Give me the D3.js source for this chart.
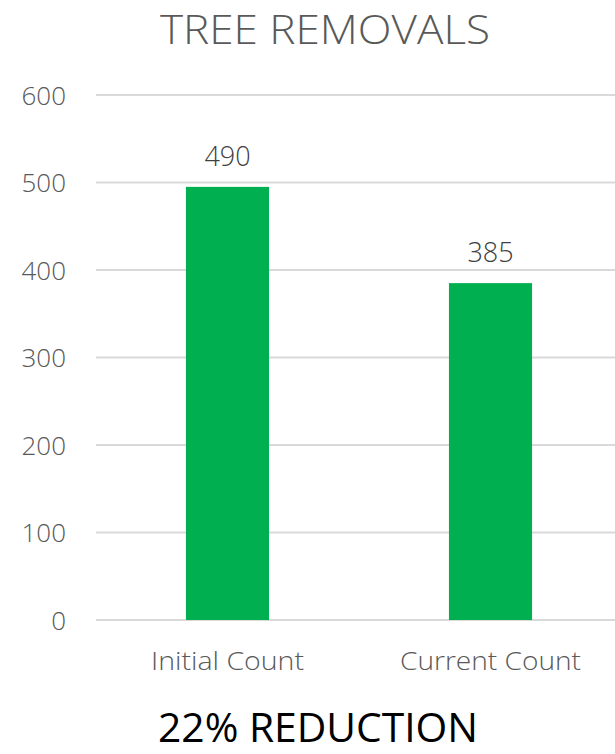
<!DOCTYPE html>
<html><head><meta charset="utf-8">
<script src="https://cdn.jsdelivr.net/npm/d3@7"></script>
<style>body{margin:0;background:#fff}</style>
</head><body>
<script>
const categories = ["Initial Count", "Current Count"];
const values = [495, 385];
const valueLabels = ["490", "385"];
const yTicks = [0, 100, 200, 300, 400, 500, 600];
const title = "TREE REMOVALS";
const subtitle = "22% REDUCTION";

const W = 615, H = 754;
const svg = d3.select("body").append("svg").attr("width", W).attr("height", H);
const font = "'Open Sans', sans-serif";

const x = d3.scaleBand().domain(categories).range([96, 622]).paddingInner(0.684).paddingOuter(0.342);
const y = d3.scaleLinear().domain([0, 600]).range([620, 95]);

// gridlines
svg.append("g").selectAll("line").data(yTicks).join("line")
  .attr("x1", 96).attr("x2", W)
  .attr("y1", d => y(d)).attr("y2", d => y(d))
  .attr("stroke", "#d9d9d9").attr("stroke-width", 2);

// y axis labels
const yAxis = d3.axisLeft(y).tickValues(yTicks).tickSize(0).tickPadding(0);
const ga = svg.append("g").attr("transform", "translate(66,0)").call(yAxis);
ga.select(".domain").remove();
ga.selectAll("text").attr("font-family", font).attr("font-size", 26).attr("font-weight", 300)
  .attr("fill", "#595959").attr("dy", "0.35em");

// bars
svg.append("g").selectAll("rect").data(values).join("rect")
  .attr("x", (d, i) => x(categories[i]))
  .attr("width", x.bandwidth())
  .attr("y", d => y(d))
  .attr("height", d => y(0) - y(d))
  .attr("fill", "#00b050");

// value labels
svg.append("g").selectAll("text").data(values).join("text")
  .attr("x", (d, i) => x(categories[i]) + x.bandwidth() / 2)
  .attr("y", d => y(d) - 21)
  .attr("text-anchor", "middle")
  .attr("font-family", font).attr("font-size", 27).attr("font-weight", 300)
  .attr("fill", "#404040")
  .text((d, i) => valueLabels[i]);

// category labels
const xAxis = d3.axisBottom(x).tickSize(0).tickPadding(0);
const gx = svg.append("g").attr("transform", "translate(0,670)").call(xAxis);
gx.select(".domain").remove();
gx.selectAll("text").attr("font-family", font).attr("font-size", 26).attr("font-weight", 300)
  .attr("fill", "#595959").attr("dy", 0)
  .attr("textLength", d => d === "Initial Count" ? 153 : 181)
  .attr("lengthAdjust", "spacingAndGlyphs");

// title
svg.append("text").attr("x", 325).attr("y", 44).attr("text-anchor", "middle")
  .attr("font-family", font).attr("font-size", 41).attr("font-weight", 300)
  .attr("fill", "#595959").attr("textLength", 330).attr("lengthAdjust", "spacingAndGlyphs")
  .text(title);

// subtitle
svg.append("text").attr("x", 318).attr("y", 742).attr("text-anchor", "middle")
  .attr("font-family", font).attr("font-size", 40).attr("font-weight", 400)
  .attr("fill", "#000").attr("textLength", 320).attr("lengthAdjust", "spacingAndGlyphs")
  .text(subtitle);
</script>
</body></html>
